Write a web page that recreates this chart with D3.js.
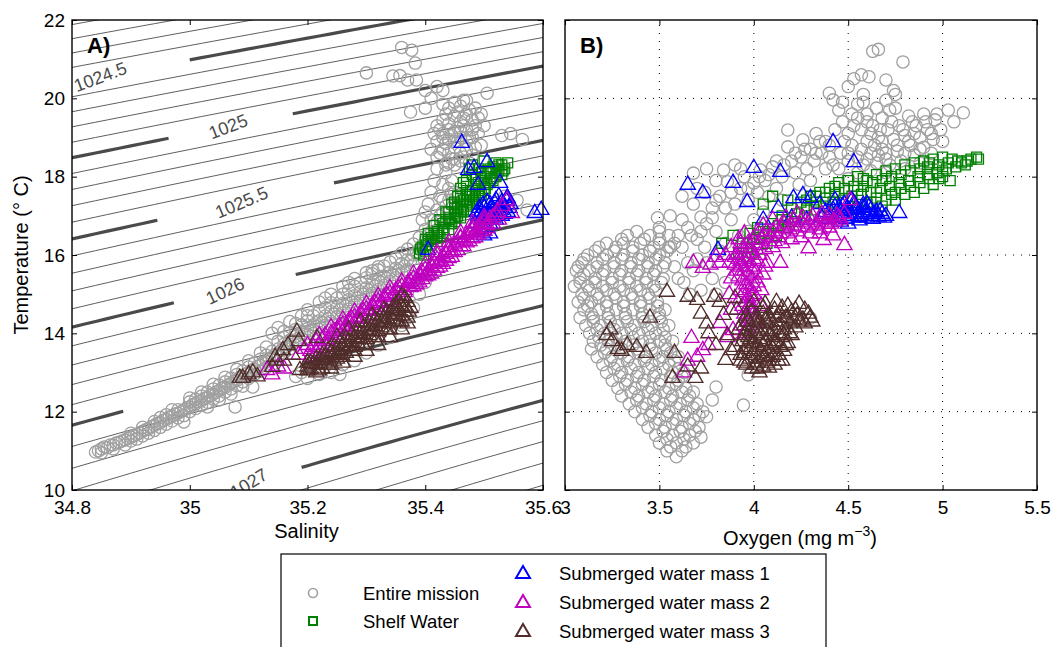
<!DOCTYPE html>
<html><head><meta charset="utf-8">
<script src="https://cdn.jsdelivr.net/npm/d3@7"></script>
<style>body{margin:0;background:#fff}text{font-family:"Liberation Sans",Arial,Helvetica,sans-serif}</style>
</head><body><svg id="c" width="1052" height="647"></svg>
<script>
// ---------- tick values ----------
const salTicks = [34.8, 35, 35.2, 35.4, 35.6];
const oxyTicks = [3, 3.5, 4, 4.5, 5, 5.5];
const tempTicks = [10, 12, 14, 16, 18, 20, 22];
const gridOxy = [3.5, 4, 4.5, 5];
const gridTemp = [12, 14, 16, 18, 20];

// ---------- isopycnal levels (kg m^-3) ----------
const thinLevels = [1024.0,1024.1,1024.2,1024.3,1024.4,1024.6,1024.7,1024.8,1024.9,1025.1,1025.2,1025.3,1025.4,1025.6,1025.7,1025.8,1025.9,1026.1,1026.2,1026.3,1026.4,1026.6,1026.7,1026.8,1026.9,1027.1,1027.2,1027.3,1027.4,1027.6];
const thickLevels = [1024.5, 1025, 1025.5, 1026, 1026.5, 1027];
const thickLabels = ["1024.5", "1025", "1025.5", "1026", "", "1027"];
const labelSal = [34.848, 35.065, 35.088, 35.06, 35.04, 35.1];
const gapSal = [[34.7, 35.0], [34.964, 35.175], [34.945, 35.245], [34.973, 35.18], [34.887, 35.19], [34.85, 35.19]];

// ---------- Panel A: salinity / temperature ----------
const grayTS = [[34.84,10.97],[34.85,11.05],[34.85,10.95],[34.86,11.08],[34.87,11.15],[34.87,11.05],[34.88,11.22],[34.89,11.28],[34.89,11.15],[34.9,11.35],[34.9,11.25],[34.91,11.42],[34.91,11.3],[34.92,11.5],[34.92,11.38],[34.93,11.56],[34.93,11.45],[34.94,11.65],[34.94,11.52],[34.94,11.75],[34.95,11.72],[34.95,11.6],[34.96,11.8],[34.96,11.68],[34.96,11.92],[34.97,11.88],[34.97,11.76],[34.98,11.96],[34.98,11.84],[34.98,12.05],[34.99,12.04],[34.99,11.9],[34.99,11.74],[35.0,12.12],[35.0,12.0],[35.0,12.25],[35.01,12.2],[35.01,12.08],[35.01,12.32],[35.02,12.28],[35.02,12.16],[35.02,12.4],[35.03,12.36],[35.03,12.24],[35.03,12.5],[35.04,12.45],[35.04,12.32],[35.04,12.58],[35.05,12.54],[35.05,12.4],[35.05,12.68],[35.06,12.62],[35.06,12.5],[35.06,12.76],[35.07,12.72],[35.07,12.58],[35.07,12.86],[35.077,12.12],[35.08,12.8],[35.08,12.66],[35.08,12.95],[35.09,12.9],[35.09,12.76],[35.09,13.04],[35.1,13.0],[35.1,12.85],[35.1,13.14],[35.107,12.63],[35.11,13.08],[35.11,13.24],[35.12,13.18],[35.12,13.04],[35.12,13.34],[35.13,13.28],[35.13,13.12],[35.13,13.44],[35.14,13.38],[35.14,13.2],[35.14,13.54],[35.14,14.0],[35.15,13.6],[35.15,13.4],[35.15,13.8],[35.15,14.15],[35.16,13.72],[35.16,13.5],[35.16,13.9],[35.17,13.82],[35.17,13.6],[35.17,14.02],[35.17,14.3],[35.18,13.92],[35.18,12.9],[35.18,14.1],[35.18,13.7],[35.19,14.02],[35.19,13.0],[35.19,14.22],[35.19,14.45],[35.2,14.12],[35.2,13.9],[35.2,14.32],[35.2,14.6],[35.2,12.85],[35.21,14.22],[35.21,14.0],[35.21,14.45],[35.21,13.1],[35.22,14.32],[35.22,14.1],[35.22,14.56],[35.22,14.8],[35.22,12.95],[35.23,14.44],[35.23,14.2],[35.23,14.66],[35.23,14.9],[35.23,13.15],[35.24,14.55],[35.24,14.3],[35.24,14.78],[35.24,15.0],[35.24,13.0],[35.25,14.66],[35.25,14.42],[35.25,14.9],[35.255,12.95],[35.26,14.76],[35.26,14.52],[35.26,15.0],[35.26,15.2],[35.26,13.2],[35.27,14.86],[35.27,14.62],[35.27,15.1],[35.27,15.3],[35.28,14.96],[35.28,14.72],[35.28,15.2],[35.28,15.4],[35.28,13.3],[35.29,15.06],[35.29,14.82],[35.29,15.3],[35.3,15.16],[35.3,14.92],[35.3,15.42],[35.3,15.55],[35.3,13.5],[35.31,15.26],[35.31,15.02],[35.31,15.52],[35.31,15.6],[35.32,15.36],[35.32,15.12],[35.32,15.62],[35.32,15.7],[35.32,13.7],[35.33,15.46],[35.33,15.22],[35.33,15.72],[35.34,15.56],[35.34,15.32],[35.34,15.82],[35.34,13.9],[35.35,15.66],[35.35,15.42],[35.35,15.92],[35.36,15.78],[35.36,15.54],[35.36,16.05],[35.36,14.2],[35.37,15.88],[35.37,14.4],[35.37,16.15],[35.37,15.62],[35.38,16.0],[35.38,15.75],[35.38,16.28],[35.38,14.65],[35.39,16.15],[35.39,15.0],[35.39,16.45],[35.4,16.35],[35.4,15.3],[35.4,16.65],[35.4,17.1],[35.41,16.6],[35.41,15.6],[35.41,16.9],[35.41,17.6],[35.42,16.85],[35.42,17.15],[35.42,18.2],[35.405,17.3],[35.415,17.9],[35.425,17.5],[35.43,17.1],[35.43,17.4],[35.43,17.8],[35.435,18.1],[35.44,17.4],[35.44,17.7],[35.44,18.35],[35.445,17.9],[35.45,18.3],[35.45,17.6],[35.46,18.4],[35.395,16.9],
[35.42,18.5],[35.43,18.7],[35.44,18.6],[35.45,18.75],[35.46,18.6],[35.47,18.7],[35.48,18.55],[35.42,18.9],[35.43,19.1],[35.44,18.95],[35.45,19.15],[35.46,19.0],[35.47,19.2],[35.48,19.0],[35.49,19.1],[35.495,18.8],[35.42,19.3],[35.43,19.45],[35.44,19.35],[35.45,19.55],[35.46,19.4],[35.47,19.6],[35.48,19.45],[35.49,19.5],[35.44,19.75],[35.45,19.9],[35.46,19.8],[35.47,19.95],[35.43,19.85],[35.415,19.1],[35.41,18.7],[35.435,18.3],[35.45,18.45],[35.475,18.35],[35.5,19.3],[35.505,20.13],[35.485,19.75],[35.455,18.9],[35.465,19.3],[35.475,19.0],[35.485,18.75],
[35.36,21.3],[35.377,21.23],[35.383,20.9],[35.30,20.65],[35.345,20.57],[35.357,20.58],[35.37,20.47],[35.385,20.47],[35.40,20.2],[35.43,20.2],[35.375,19.65],[35.40,19.75],[35.465,19.95],[35.53,19.05],[35.545,19.1],[35.565,18.95],[35.556,17.4],[35.573,17.15],[35.41,20.0],[35.42,20.3],[35.545,17.2],[35.535,17.5]];
const grayTS2 = [[34.845,11.0],[34.855,11.1],[34.865,11.15],[34.875,11.2],[34.885,11.25],[34.895,11.32],[34.905,11.38],[34.915,11.46],[34.925,11.54],[34.935,11.62],[34.945,11.7],[34.955,11.78],[34.965,11.86],[34.975,11.94],[34.985,12.0],[34.995,12.1],[35.005,12.18],[35.015,12.26],[35.025,12.34],[35.035,12.42],[35.045,12.5],[35.055,12.6],[35.065,12.68],[35.075,12.78],[35.085,12.88],[35.095,12.96],[35.105,13.06],[35.115,13.16],[35.125,13.26],[35.135,13.36],[35.145,13.46],[35.155,13.56],[35.165,13.66],[35.175,13.78],[35.185,13.88],[35.195,13.98],[35.205,14.08],[35.215,14.18],[35.225,14.28],[35.235,14.38],[35.245,14.5],[35.255,14.6],[35.265,14.7],[35.275,14.8],[35.285,14.9],[35.295,15.0],[35.305,15.1],[35.315,15.2],[35.325,15.3],[35.335,15.4],[35.345,15.5],[35.355,15.6],[35.365,15.72],[35.375,15.85],[35.385,16.05],[35.395,16.25],[35.405,16.5],[35.415,16.75],[35.425,17.0],[35.435,17.25],[35.445,17.55],[34.9,11.45],[34.92,11.6],[34.95,11.85],[34.97,12.05],[35.0,12.35],[35.02,12.5],[35.04,12.7],[35.06,12.88],[35.08,13.08],[35.1,13.3],[35.12,13.5],[35.13,13.65],[35.11,12.95],[35.09,12.65],[35.07,12.45],[35.05,12.3],[35.03,12.12],[35.16,14.05],[35.18,14.25],[35.2,14.45],[35.425,18.6],[35.435,18.85],[35.445,19.05],[35.455,19.25],[35.465,19.5],[35.475,19.7],[35.435,19.6],[35.425,19.2],[35.445,18.45],[35.465,18.5],[35.485,19.3],[35.495,19.6],[35.455,19.65],[35.47,18.9],[35.48,19.2],[35.43,19.0],[35.46,19.15],[35.44,19.2],[35.45,18.9]];

const greenTS = [[35.39,16.05],[35.395,16.2],[35.40,16.1],[35.405,16.35],[35.41,16.25],[35.415,16.5],[35.42,16.35],[35.42,16.6],[35.425,16.45],[35.43,16.7],[35.43,16.55],[35.435,16.85],[35.44,16.65],[35.44,16.95],[35.445,16.8],[35.45,17.05],[35.45,16.85],[35.455,17.2],[35.46,16.95],[35.46,17.3],[35.465,17.1],[35.47,17.4],[35.47,17.15],[35.475,17.55],[35.48,17.3],[35.48,17.65],[35.485,17.45],[35.49,17.75],[35.49,17.5],[35.495,17.9],[35.5,17.65],[35.5,18.0],[35.505,17.8],[35.51,18.1],[35.51,17.85],[35.515,18.25],[35.52,18.0],[35.52,18.35],[35.525,18.15],[35.53,18.3],[35.53,18.05],[35.535,18.2],[35.54,18.35],[35.5,18.4],[35.49,18.2],[35.48,18.05],[35.47,17.9],[35.465,17.85],[35.46,17.7],[35.475,18.2],[35.48,18.3],[35.455,17.5],[35.445,17.3],[35.435,17.1],[35.425,16.9],[35.415,16.75],[35.405,16.55],[35.4,16.4],[35.397,16.0],[35.44,17.1],[35.45,17.35],[35.46,17.5],
[35.392,16.15],[35.402,16.25],[35.412,16.4],[35.422,16.55],[35.432,16.65],[35.442,16.8],[35.452,16.95],[35.462,17.1],[35.472,17.25],[35.482,17.4],[35.492,17.6],[35.502,17.7],[35.512,17.95],[35.522,18.1],[35.532,18.15],[35.41,16.45],[35.43,16.8],[35.45,17.2],[35.47,17.55],[35.49,17.85],[35.51,18.2],[35.465,17.4],[35.485,17.65],[35.455,17.0],[35.475,17.35],[35.495,17.55],[35.515,17.9],[35.525,18.3],[35.44,16.9],[35.42,16.5],[35.46,17.15],[35.48,17.5],[35.5,17.85],[35.52,18.2],[35.505,18.15],[35.47,17.75],[35.485,17.95],[35.495,18.1]];

const blueTS = [[35.462,18.86],[35.473,18.17],[35.483,18.22],[35.505,18.37],[35.49,17.79],[35.527,17.84],[35.539,17.46],[35.586,17.07],[35.597,17.15],[35.405,16.13],[35.49,17.0],[35.495,17.1],[35.5,16.95],[35.5,17.2],[35.505,17.05],[35.51,17.3],[35.51,17.0],[35.515,17.15],[35.52,17.4],[35.52,17.1],[35.525,17.25],[35.53,17.0],[35.53,17.35],[35.535,17.2],[35.54,17.45],[35.54,17.1],[35.545,17.3],[35.505,17.35],[35.495,16.9],[35.515,16.95],[35.525,17.5],[35.5,16.5],[35.495,16.6],[35.505,16.7],[35.485,16.8],
[35.492,17.2],[35.498,17.28],[35.508,17.12],[35.512,17.22],[35.518,17.32],[35.522,17.02],[35.528,17.15],[35.532,17.28],[35.538,17.38],[35.543,17.2],[35.502,16.88],[35.51,16.8],[35.52,16.9],[35.488,17.1],[35.497,17.0],[35.535,17.05],[35.5,16.62],[35.51,16.55]];

const magentaTS = [[35.131,13.06],[35.14,12.95],[35.15,13.15],[35.16,13.1],[35.185,13.45],[35.195,13.6],[35.2,13.7],[35.205,13.55],[35.21,13.65],[35.215,13.8],[35.22,13.7],[35.225,13.85],[35.23,13.95],[35.235,13.8],[35.24,14.0],[35.245,14.05],[35.25,14.1],[35.255,14.15],[35.26,14.22],[35.265,14.15],[35.27,14.32],[35.275,14.37],[35.28,14.42],[35.285,14.37],[35.29,14.52],[35.295,14.57],[35.3,14.62],[35.305,14.57],[35.31,14.72],[35.315,14.77],[35.32,14.82],[35.325,14.77],[35.33,14.92],[35.335,14.97],[35.34,15.02],[35.345,14.97],[35.35,15.1],[35.355,15.15],[35.36,15.2],[35.365,15.1],[35.37,15.28],[35.375,15.32],[35.38,15.4],[35.385,15.35],[35.39,15.5],[35.395,15.55],[35.4,15.62],[35.405,15.58],[35.41,15.72],[35.415,15.78],[35.42,15.88],[35.425,15.82],[35.43,15.98],[35.435,16.03],[35.44,16.12],[35.445,16.08],[35.45,16.27],[35.455,16.32],[35.46,16.42],[35.465,16.37],[35.47,16.52],[35.475,16.57],[35.48,16.62],[35.485,16.57],[35.49,16.72],[35.495,16.77],[35.5,16.82],[35.505,16.77],[35.51,16.92],[35.515,16.97],[35.52,17.02],[35.41,15.52],[35.42,15.67],[35.43,15.77],[35.44,15.92],[35.45,16.07],[35.46,16.22],[35.47,16.32],[35.48,16.42],[35.49,16.52],[35.5,16.62],[35.38,15.2],[35.39,15.3],[35.4,15.45],[35.42,16.07],[35.44,16.32],[35.46,16.57],[35.48,16.82],[35.5,16.97],[35.539,17.4],[35.547,17.07],[35.522,17.1],[35.53,17.25],
[35.205,13.4],[35.215,13.5],[35.225,13.62],[35.235,13.7],[35.245,13.85],[35.255,13.95],[35.265,14.05],[35.275,14.18],[35.285,14.27],[35.295,14.4],[35.305,14.47],[35.315,14.6],[35.325,14.67],[35.335,14.8],[35.345,14.85],[35.355,14.98],[35.365,15.05],[35.375,15.18],[35.385,15.25],[35.395,15.38],[35.405,15.48],[35.415,15.6],[35.425,15.7],[35.435,15.85],[35.445,15.95],[35.455,16.12],[35.465,16.22],[35.475,16.35],[35.485,16.45],[35.495,16.6],[35.505,16.68],[35.515,16.8],[35.525,16.9],[35.22,13.95],[35.24,14.15],[35.26,14.35],[35.28,14.55],[35.3,14.75],[35.32,14.95],[35.34,15.15],[35.36,15.32],[35.38,15.52],[35.4,15.75],[35.42,16.0],[35.44,16.2],[35.46,16.45],[35.48,16.7],[35.5,16.9]];

const brownTS = [[35.2,13.05],[35.21,13.2],[35.215,13.0],[35.22,13.3],[35.225,13.1],[35.23,13.4],[35.235,13.2],[35.24,13.5],[35.245,13.3],[35.25,13.6],[35.25,13.35],[35.255,13.45],[35.26,13.7],[35.265,13.5],[35.27,13.8],[35.275,13.55],[35.28,13.9],[35.28,13.65],[35.285,13.75],[35.29,14.0],[35.295,13.7],[35.3,14.1],[35.3,13.85],[35.305,13.95],[35.31,14.2],[35.315,13.9],[35.32,14.3],[35.32,14.05],[35.325,14.15],[35.33,14.4],[35.335,14.1],[35.34,14.5],[35.34,14.25],[35.345,14.35],[35.35,14.6],[35.355,14.3],[35.36,14.7],[35.36,14.45],[35.365,14.55],[35.37,14.8],[35.37,14.4],[35.375,14.65],[35.365,14.9],[35.355,14.8],[35.345,14.65],[35.335,14.55],[35.325,14.45],[35.315,14.35],[35.305,14.25],[35.295,14.15],[35.285,14.05],[35.275,13.95],[35.265,13.85],[35.255,13.75],[35.245,13.65],[35.235,13.55],[35.225,13.45],[35.215,13.35],[35.205,13.25],[35.2,13.15],[35.24,13.1],[35.26,13.25],[35.28,13.4],[35.3,13.55],[35.32,13.7],[35.34,13.9],[35.36,14.1],[35.37,14.25],[35.27,14.1],[35.29,14.3],[35.31,14.45],[35.33,14.6],[35.35,14.75],[35.36,14.95],[35.25,13.9],
[35.09,12.86],[35.107,13.0],[35.115,12.9],[35.145,13.4],[35.158,13.57],[35.167,13.7],[35.182,14.04],[35.185,13.8],[35.216,13.88],[35.14,13.14],[35.16,13.3],[35.187,13.06],[35.085,12.86],[35.1,12.95],[35.148,13.3],[35.175,13.45],
[35.205,13.1],[35.215,13.22],[35.225,13.32],[35.235,13.38],[35.245,13.48],[35.255,13.58],[35.265,13.68],[35.275,13.78],[35.285,13.88],[35.295,13.98],[35.305,14.08],[35.315,14.18],[35.325,14.28],[35.335,14.38],[35.345,14.48],[35.355,14.58],[35.365,14.68],[35.372,14.55],[35.23,13.25],[35.25,13.45],[35.27,13.65],[35.29,13.85],[35.31,14.05],[35.33,14.25],[35.35,14.45],[35.22,13.05],[35.26,13.4],[35.3,13.7],[35.34,14.1],[35.28,13.55],[35.32,13.9],[35.36,14.3],[35.24,13.2],[35.2,13.25]];

// ---------- Panel B: oxygen / temperature ----------
const grayOT = [[3.38,16.6],[3.5,16.6],[3.3,16.4],[3.42,16.4],[3.18,16.2],[3.27,16.2],[3.36,16.2],[3.47,16.2],[3.56,16.2],[3.12,16.0],[3.22,16.0],[3.31,16.0],[3.41,16.0],[3.5,16.0],[3.09,15.8],[3.17,15.8],[3.26,15.8],[3.35,15.8],[3.44,15.8],[3.53,15.8],[3.06,15.6],[3.13,15.6],[3.21,15.6],[3.3,15.6],[3.39,15.6],[3.48,15.6],[3.08,15.4],[3.16,15.4],[3.25,15.4],[3.34,15.4],[3.43,15.4],[3.52,15.4],[3.05,15.2],[3.12,15.2],[3.2,15.2],[3.29,15.2],[3.38,15.2],[3.47,15.2],[3.09,15.0],[3.17,15.0],[3.26,15.0],[3.35,15.0],[3.44,15.0],[3.07,14.8],[3.14,14.8],[3.22,14.8],[3.31,14.8],[3.4,14.8],[3.49,14.8],[3.1,14.6],[3.18,14.6],[3.27,14.6],[3.36,14.6],[3.45,14.6],[3.53,14.6],[3.08,14.4],[3.15,14.4],[3.23,14.4],[3.32,14.4],[3.41,14.4],[3.5,14.4],[3.11,14.2],[3.19,14.2],[3.28,14.2],[3.37,14.2],[3.46,14.2],[3.55,14.2],[3.13,14.0],[3.21,14.0],[3.3,14.0],[3.39,14.0],[3.48,14.0],[3.15,13.8],[3.23,13.8],[3.32,13.8],[3.41,13.8],[3.5,13.8],[3.57,13.8],[3.14,13.6],[3.22,13.6],[3.3,13.6],[3.38,13.6],[3.46,13.6],[3.54,13.6],[3.17,13.4],[3.25,13.4],[3.34,13.4],[3.43,13.4],[3.52,13.4],[3.6,13.4],[3.2,13.2],[3.28,13.2],[3.37,13.2],[3.46,13.2],[3.55,13.2],[3.22,13.0],[3.3,13.0],[3.39,13.0],[3.48,13.0],[3.57,13.0],[3.63,13.0],[3.25,12.8],[3.33,12.8],[3.42,12.8],[3.51,12.8],[3.6,12.8],[3.28,12.6],[3.37,12.6],[3.46,12.6],[3.55,12.6],[3.64,12.6],[3.3,12.4],[3.39,12.4],[3.48,12.4],[3.57,12.4],[3.66,12.4],[3.34,12.2],[3.43,12.2],[3.52,12.2],[3.61,12.2],[3.7,12.2],[3.37,12.0],[3.46,12.0],[3.55,12.0],[3.64,12.0],[3.73,12.0],[3.41,11.8],[3.5,11.8],[3.59,11.8],[3.68,11.8],[3.44,11.6],[3.53,11.6],[3.62,11.6],[3.71,11.6],[3.48,11.4],[3.57,11.4],[3.66,11.4],[3.5,11.2],[3.59,11.2],[3.68,11.2],[3.54,11.0],[3.62,11.0],[3.59,10.85],[3.8,12.63],[3.945,12.17],[3.97,12.94],[3.72,11.35],[3.75,11.87],[3.78,12.3],[4.3,14.39],
[3.45,16.1],[3.5,16.4],[3.49,16.95],[3.557,17.0],[3.6,16.5],[3.65,16.7],[3.62,16.2],[3.7,16.4],[3.72,16.97],[3.68,17.3],[3.75,16.8],[3.78,17.2],[3.8,16.6],[3.68,18.09],[3.74,17.6],[3.84,18.17],[3.86,17.87],[3.82,17.5],[3.9,17.3],[3.88,16.9],[3.93,17.7],[3.95,18.0],[3.97,17.4],[4.0,17.84],[4.035,18.17],[4.02,17.6],[4.06,17.9],[4.1,18.25],[4.08,17.5],[4.12,17.7],[4.15,18.0],[4.18,18.76],[4.18,19.19],[4.2,18.4],[4.22,18.1],[4.26,18.94],[4.25,18.5],[4.28,18.2],[4.3,18.7],[4.32,18.4],[4.35,18.9],[4.33,19.1],[4.36,18.6],[4.24,17.8],[4.3,17.9],[4.38,18.2],[4.4,18.5],[4.15,17.4],[3.85,16.3],[3.92,16.5],[3.63,15.3],[3.68,15.6],[3.72,15.1],[3.78,15.4],[3.66,15.0],[3.8,15.0],[3.75,15.8],[3.58,15.7],[3.55,16.2],[3.82,16.1],[3.97,16.6],[4.05,17.1],[4.0,16.9],[3.9,18.3],[3.8,17.9],[3.6,15.4],[3.7,15.9],[3.85,15.3],
[4.4,20.13],[4.42,19.96],[4.45,19.7],[4.47,19.4],[4.5,19.1],[4.52,18.8],[4.55,18.5],[4.58,18.3],[4.48,18.9],[4.46,18.6],[4.5,18.4],[4.43,19.2],[4.55,19.5],[4.57,19.2],[4.6,18.9],[4.62,18.6],[4.65,18.35],[4.6,19.6],[4.63,19.3],[4.66,19.0],[4.68,18.7],[4.7,18.45],[4.72,18.3],[4.68,19.5],[4.71,19.2],[4.74,18.95],[4.76,18.65],[4.78,18.4],[4.8,18.6],[4.77,19.3],[4.8,19.05],[4.83,18.8],[4.85,18.55],[4.82,19.55],[4.86,19.3],[4.88,19.0],[4.9,18.75],[4.92,19.2],[4.95,18.95],[4.96,19.45],[4.99,19.2],[5.03,19.7],[5.11,19.63],[5.06,19.4],[5.0,18.9],[4.9,19.6],[4.75,19.75],[4.7,19.95],[4.65,19.75],[4.55,19.85],[4.53,20.5],[4.57,20.6],[4.61,20.55],[4.7,20.47],[4.74,20.2],[4.75,20.1],[4.63,21.2],[4.66,21.25],[4.79,20.93],[4.5,20.3],[4.58,20.1],[4.62,18.15],[4.7,18.1],[4.8,18.2],[4.55,18.1],[4.5,17.95],[4.45,18.2],[4.38,18.9],[4.88,18.35],[4.94,18.6]];
const grayOT2 = [[3.33,16.5],[3.45,16.5],[3.22,16.3],[3.31,16.3],[3.4,16.3],[3.5,16.3],[3.16,16.1],[3.26,16.1],[3.36,16.1],[3.45,16.1],[3.54,16.1],[3.1,15.9],[3.2,15.9],[3.3,15.9],[3.39,15.9],[3.48,15.9],[3.07,15.7],[3.17,15.7],[3.26,15.7],[3.35,15.7],[3.44,15.7],[3.52,15.7],[3.1,15.5],[3.2,15.5],[3.29,15.5],[3.38,15.5],[3.47,15.5],[3.08,15.3],[3.16,15.3],[3.25,15.3],[3.34,15.3],[3.43,15.3],[3.51,15.3],[3.13,15.1],[3.22,15.1],[3.31,15.1],[3.4,15.1],[3.48,15.1],[3.1,14.9],[3.18,14.9],[3.27,14.9],[3.36,14.9],[3.45,14.9],[3.12,14.7],[3.22,14.7],[3.31,14.7],[3.4,14.7],[3.49,14.7],[3.14,14.5],[3.23,14.5],[3.32,14.5],[3.41,14.5],[3.5,14.5],[3.15,14.3],[3.24,14.3],[3.33,14.3],[3.42,14.3],[3.51,14.3],[3.17,14.1],[3.26,14.1],[3.35,14.1],[3.44,14.1],[3.52,14.1],[3.18,13.9],[3.27,13.9],[3.36,13.9],[3.45,13.9],[3.53,13.9],[3.19,13.7],[3.28,13.7],[3.36,13.7],[3.45,13.7],[3.53,13.7],[3.21,13.5],[3.3,13.5],[3.39,13.5],[3.48,13.5],[3.56,13.5],[3.24,13.3],[3.33,13.3],[3.42,13.3],[3.5,13.3],[3.58,13.3],[3.26,13.1],[3.35,13.1],[3.44,13.1],[3.52,13.1],[3.6,13.1],[3.29,12.9],[3.38,12.9],[3.47,12.9],[3.56,12.9],[3.62,12.9],[3.32,12.7],[3.41,12.7],[3.5,12.7],[3.59,12.7],[3.35,12.5],[3.44,12.5],[3.53,12.5],[3.62,12.5],[3.68,12.5],[3.38,12.3],[3.47,12.3],[3.56,12.3],[3.65,12.3],[3.41,12.1],[3.5,12.1],[3.59,12.1],[3.68,12.1],[3.45,11.9],[3.54,11.9],[3.63,11.9],[3.71,11.9],[3.48,11.7],[3.57,11.7],[3.66,11.7],[3.52,11.5],[3.61,11.5],[3.69,11.5],[3.54,11.3],[3.63,11.3],[3.56,11.1],[3.64,11.1],
[3.5,16.7],[3.55,16.5],[3.62,16.9],[3.67,16.5],[3.72,16.6],[3.78,16.95],[3.8,17.4],[3.85,17.2],[3.88,17.6],[3.93,18.2],[3.97,17.7],[4.03,18.0],[4.08,18.05],[4.12,18.4],[4.16,18.3],[4.22,18.6],[4.27,18.7],[4.33,18.6],[4.4,18.8],[4.42,18.3],[3.7,17.7],[3.75,18.2],[3.62,17.5],[3.58,16.3],[3.65,15.8],[3.74,16.2],
[4.5,18.6],[4.53,19.3],[4.57,18.7],[4.6,19.4],[4.64,18.8],[4.67,19.2],[4.7,18.6],[4.73,19.4],[4.76,18.8],[4.79,19.2],[4.82,18.9],[4.85,19.1],[4.88,18.7],[4.91,19.4],[4.94,19.1],[4.97,19.6],[4.47,19.9],[4.52,19.6],[4.58,19.9],[4.62,19.1],[4.68,18.9],[4.72,19.7],[4.84,19.4],[4.6,18.45],[4.66,18.55]];

const greenOT = [[3.92,16.05],[3.96,16.2],[3.97,15.95],[4.0,16.4],[4.02,16.15],[4.05,16.6],[4.07,16.3],[4.1,16.8],[4.12,16.5],[4.15,17.0],[4.17,16.7],[4.2,17.2],[4.22,16.85],[4.25,17.35],[4.27,17.0],[4.3,17.5],[4.32,17.15],[4.35,17.6],[4.37,17.25],[4.4,17.7],[4.42,17.35],[4.45,17.85],[4.47,17.4],[4.5,17.9],[4.52,17.5],[4.55,18.0],[4.57,17.55],[4.6,17.9],[4.62,17.6],[4.65,18.05],[4.67,17.7],[4.7,18.15],[4.72,17.75],[4.75,18.2],[4.77,17.85],[4.8,18.3],[4.82,17.9],[4.85,18.35],[4.87,18.0],[4.9,18.4],[4.92,18.05],[4.95,18.45],[4.97,18.1],[5.0,18.5],[5.02,18.2],[5.05,18.45],[5.07,18.25],[5.1,18.35],[5.13,18.4],[5.18,18.5],[5.19,18.45],[4.68,17.25],[4.75,17.4],[4.85,17.6],[4.95,17.8],[5.04,17.9],[4.6,17.3],[4.55,17.2],[4.8,17.55],[4.9,17.7],[4.7,17.95],[4.58,17.75],[4.43,17.55],[4.38,17.45],[4.33,17.35],[4.18,17.4],[4.1,17.5],[4.05,17.3],[4.02,16.7],[3.98,16.55],[4.15,16.9],[4.28,17.2],[4.4,17.05],[4.5,17.15],[3.89,16.5],[3.83,16.3],[4.75,17.6],[4.65,17.45],[4.92,18.25],[5.0,18.0],
[3.94,16.3],[3.99,16.05],[4.03,16.45],[4.08,16.55],[4.13,16.75],[4.18,16.85],[4.23,17.05],[4.28,17.4],[4.33,17.5],[4.38,17.6],[4.43,17.75],[4.48,17.7],[4.53,17.75],[4.58,17.95],[4.63,17.85],[4.68,17.9],[4.73,18.0],[4.78,18.05],[4.83,18.15],[4.88,18.2],[4.93,18.35],[4.98,18.3],[5.03,18.35],[5.08,18.4],[4.45,17.6],[4.55,17.65],[4.65,17.6],[4.73,17.55],[4.83,17.75],[4.93,17.95],[5.0,18.15],[4.62,17.35],[4.7,17.4],[4.78,17.7],[4.88,17.85],[4.98,17.95],[5.12,18.3],[5.15,18.45]];

const blueOT = [[3.65,17.79],[3.73,17.58],[3.89,17.84],[4.0,18.22],[4.14,18.12],[3.965,17.35],[4.13,17.2],[4.21,17.45],[4.26,17.53],[4.3,17.45],[3.81,16.13],[4.42,18.88],[4.53,18.37],[4.77,17.07],[4.35,17.3],[4.05,16.9],[4.2,16.95],[4.28,16.9],[4.4,17.0],[4.42,17.15],[4.44,16.95],[4.45,17.2],[4.47,17.05],[4.48,17.3],[4.5,17.0],[4.5,17.15],[4.52,16.95],[4.53,17.25],[4.55,17.05],[4.55,17.15],[4.57,17.0],[4.58,17.2],[4.6,17.05],[4.6,16.95],[4.62,17.15],[4.63,17.0],[4.65,17.1],[4.66,16.98],[4.68,17.05],[4.46,16.85],[4.5,16.8],[4.56,16.88],[4.38,17.1],[4.36,16.95],[4.43,17.4],[4.52,17.4],[4.6,17.3],[4.7,17.0],
[4.41,17.08],[4.43,17.22],[4.46,17.12],[4.49,16.92],[4.51,17.08],[4.54,17.18],[4.56,16.96],[4.59,17.1],[4.61,17.22],[4.64,17.05],[4.67,17.12],[4.69,16.95],[4.47,17.25],[4.53,17.32],[4.58,17.28],[4.63,16.92],[4.45,16.98],[4.39,16.92]];

const magentaOT = [[3.95,14.0],[3.98,14.2],[3.96,14.4],[3.99,14.6],[3.94,14.7],[3.97,14.9],[4.0,15.0],[3.93,15.1],[3.96,15.25],[3.99,15.4],[4.02,15.3],[3.92,15.45],[3.95,15.6],[3.98,15.7],[4.01,15.55],[3.9,15.75],[3.93,15.85],[3.96,15.95],[3.99,16.05],[4.02,15.85],[3.91,16.0],[3.94,16.15],[3.97,16.3],[3.88,16.2],[4.0,16.4],[4.03,16.25],[4.05,16.5],[4.08,16.35],[4.1,16.6],[4.13,16.45],[4.15,16.7],[4.18,16.55],[4.2,16.75],[4.23,16.6],[4.25,16.85],[4.28,16.7],[4.3,16.9],[4.33,16.75],[4.35,16.95],[4.38,16.8],[4.4,17.0],[4.43,16.85],[4.45,16.95],[4.48,17.05],[4.1,16.9],[4.17,16.95],[4.23,17.05],[4.05,16.75],[3.95,16.55],[3.92,16.4],[3.73,15.67],[3.77,15.75],[3.82,15.8],[4.07,15.8],[4.14,15.8],[4.29,16.17],[4.37,16.38],[4.48,16.25],[4.51,17.4],[3.67,13.88],[3.73,13.57],[3.65,13.3],[3.63,13.0],[3.7,13.4],[3.89,14.08],[3.86,13.9],[3.82,14.26],[3.93,14.2],[3.76,13.7],[3.68,15.8],[4.42,16.5],[4.35,16.55],
[3.96,14.1],[3.97,14.3],[3.95,14.5],[3.98,14.75],[3.96,14.8],[3.99,14.95],[3.95,15.05],[3.98,15.15],[3.94,15.35],[3.97,15.5],[4.0,15.65],[3.93,15.7],[3.96,15.8],[4.0,15.9],[3.92,15.9],[3.95,16.05],[3.98,16.2],[4.01,16.3],[3.93,16.3],[4.02,16.6],[4.04,16.4],[4.07,16.6],[4.09,16.45],[4.12,16.7],[4.14,16.55],[4.16,16.8],[4.19,16.65],[4.21,16.9],[4.24,16.72],[4.26,16.95],[4.29,16.8],[4.31,17.0],[4.34,16.85],[4.36,17.05],[4.39,16.9],[4.41,16.8],[4.44,17.0],[4.46,16.9],[4.01,14.3],[4.0,14.5],[3.97,14.65],[3.93,14.9],[4.0,15.2],[3.91,15.6],[4.03,16.0],[3.9,15.95],[4.06,16.15],[4.11,16.35],
[3.87,15.0],[3.88,15.4],[3.87,15.8],[4.04,15.1],[4.05,15.5],[4.06,15.7],[3.88,14.6],[4.04,14.7],[4.1,16.2],[4.2,16.4],[4.3,16.55],[4.15,16.3],[4.25,16.45],[4.35,16.65],[4.4,16.7],[3.85,16.0],[3.8,15.95]];

const brownOT = [[3.93,13.3],[3.96,13.2],[3.99,13.1],[4.02,13.25],[4.05,13.15],[4.08,13.3],[4.11,13.2],[3.95,13.5],[3.98,13.6],[4.01,13.45],[4.04,13.55],[4.07,13.5],[4.1,13.6],[4.13,13.45],[4.16,13.55],[3.94,13.8],[3.97,13.9],[4.0,13.75],[4.03,13.85],[4.06,13.8],[4.09,13.95],[4.12,13.8],[4.15,13.9],[4.18,13.75],[3.92,14.1],[3.95,14.2],[3.98,14.05],[4.01,14.15],[4.04,14.1],[4.07,14.25],[4.1,14.1],[4.13,14.2],[4.16,14.1],[4.19,14.25],[4.22,14.15],[3.96,14.45],[3.99,14.55],[4.02,14.4],[4.05,14.5],[4.08,14.45],[4.11,14.6],[4.14,14.5],[4.17,14.4],[4.2,14.55],[4.23,14.45],[4.26,14.35],[4.29,14.5],[4.31,14.3],[4.27,14.6],[4.24,14.75],[4.18,14.7],[4.12,14.8],[4.06,14.75],[4.0,14.8],[4.03,13.0],[4.06,13.4],[3.9,13.65],[3.91,14.6],[4.15,13.3],[4.2,13.95],[4.09,13.7],
[3.54,15.06],[3.45,14.4],[3.24,14.1],[3.25,13.8],[3.28,13.6],[3.33,13.7],[3.38,13.65],[3.43,13.5],[3.65,14.93],[3.7,14.85],[3.72,14.5],[3.75,14.25],[3.58,13.5],[3.57,12.86],[3.69,12.86],[3.65,13.15],[3.72,13.1],[3.79,14.93],[3.82,14.8],[3.84,14.47],[3.86,13.95],[3.88,13.57],[3.85,13.32],[3.8,13.7],[3.76,14.0],[3.9,14.9],[3.22,13.95],[3.3,13.55],
[3.95,13.25],[3.98,13.35],[4.01,13.2],[4.04,13.35],[4.07,13.25],[4.1,13.4],[4.13,13.3],[3.96,13.65],[3.99,13.75],[4.02,13.65],[4.05,13.7],[4.08,13.6],[4.11,13.75],[4.14,13.65],[4.17,13.7],[3.95,13.95],[3.98,13.85],[4.01,14.0],[4.04,13.95],[4.07,14.05],[4.1,13.9],[4.13,14.0],[4.16,13.95],[4.19,14.0],[3.97,14.3],[4.0,14.35],[4.03,14.25],[4.06,14.35],[4.09,14.3],[4.12,14.4],[4.15,14.3],[4.18,14.4],[4.21,14.35],[4.24,14.3],[4.27,14.25],[4.3,14.4],[4.02,13.1],[4.08,13.12],[4.0,13.55],[3.93,13.45],[4.05,14.65],[4.15,14.65],[4.22,14.6]];

// ---------- legend ----------
const legendLeft = ["Entire mission", "Shelf Water"];
const legendRight = ["Submerged water mass 1", "Submerged water mass 2", "Submerged water mass 3"];

// ---------- styles ----------
const C = {gray: "#a0a0a0", green: "#008000", blue: "#0000ff", magenta: "#c000c0", brown: "#502d2a"};

const svg = d3.select("#c");
const TOP = 20, BOT = 490;
const xA = d3.scaleLinear().domain([34.8, 35.6]).range([72, 543]);
const xB = d3.scaleLinear().domain([3, 5.5]).range([565, 1037]);
const y = d3.scaleLinear().domain([10, 22]).range([BOT, TOP]);

// UNESCO EOS-80, surface pressure
function rhoSW(S, T) {
  const T2 = T*T, T3 = T2*T, T4 = T3*T, T5 = T4*T;
  const rw = 999.842594 + 6.793952e-2*T - 9.095290e-3*T2 + 1.001685e-4*T3 - 1.120083e-6*T4 + 6.536332e-9*T5;
  const A = 0.824493 - 4.0899e-3*T + 7.6438e-5*T2 - 8.2467e-7*T3 + 5.3875e-9*T4;
  const B = -5.72466e-3 + 1.0227e-4*T - 1.6546e-6*T2;
  return rw + A*S + B*Math.pow(S, 1.5) + 4.8314e-4*S*S;
}
function isoT(level, S) {
  let lo = 0, hi = 40;
  for (let i = 0; i < 50; i++) { const m = (lo+hi)/2; if (rhoSW(S, m) > level) lo = m; else hi = m; }
  return (lo+hi)/2;
}
const sSamp = d3.range(34.76, 35.645, 0.02);
const line = d3.line().x(d => xA(d[0])).y(d => y(d[1]));
const defs = svg.append("defs");
defs.append("clipPath").attr("id", "clipA").append("rect")
  .attr("x", xA(34.8)).attr("y", y(22)).attr("width", xA(35.6)-xA(34.8)).attr("height", y(10)-y(22));

const gA = svg.append("g");
const gCont = gA.append("g").attr("clip-path", "url(#clipA)");
thinLevels.forEach(L => {
  gCont.append("path").attr("d", line(sSamp.map(s => [s, isoT(L, s)])))
    .attr("fill", "none").attr("stroke", "#2a2a2a").attr("stroke-width", 0.75);
});
thickLevels.forEach((L, i) => {
  const [g0, g1] = gapSal[i];
  const left = sSamp.filter(s => s < g0).concat([g0]).map(s => [s, isoT(L, s)]);
  const right = [g1].concat(sSamp.filter(s => s > g1)).map(s => [s, isoT(L, s)]);
  [left, right].forEach(seg => {
    if (seg.length > 1) gCont.append("path").attr("d", line(seg))
      .attr("fill", "none").attr("stroke", "#4a4a4a").attr("stroke-width", 3.2);
  });
  if (thickLabels[i]) {
    const s = labelSal[i];
    const px = xA(s), py = y(isoT(L, s));
    const slope = (y(isoT(L, s+0.01)) - y(isoT(L, s-0.01))) / (xA(s+0.01) - xA(s-0.01));
    const ang = Math.atan(slope) * 180 / Math.PI * 1.9;
    gCont.append("text").attr("transform", `translate(${px},${py}) rotate(${ang})`)
      .attr("text-anchor", "middle").attr("dy", "0.35em")
      .attr("font-size", 18).attr("fill", "#4a4a4a").text(thickLabels[i]);
  }
});

function plotPts(g, data, xs, type, size, color, sw) {
  const p = d3.symbol().type(type).size(size)();
  g.append("g").selectAll("path").data(data).join("path")
    .attr("d", p).attr("transform", d => `translate(${xs(d[0])},${y(d[1])})`)
    .attr("fill", "none").attr("stroke", color).attr("stroke-width", sw);
}
const CIRC = 118, SQ = 100, TRI = 100;
plotPts(gA, grayTS.concat(grayTS2), xA, d3.symbolCircle, CIRC, C.gray, 1.3);
plotPts(gA, greenTS, xA, d3.symbolSquare, SQ, C.green, 1.3);
plotPts(gA, blueTS, xA, d3.symbolTriangle, TRI, C.blue, 1.35);
plotPts(gA, magentaTS, xA, d3.symbolTriangle, TRI, C.magenta, 1.35);
plotPts(gA, brownTS, xA, d3.symbolTriangle, TRI, C.brown, 1.35);

// Panel B
const gB = svg.append("g");
gridOxy.forEach(v => gB.append("line").attr("x1", xB(v)).attr("x2", xB(v)).attr("y1", y(10)).attr("y2", y(22))
  .attr("stroke", "#000").attr("stroke-width", 1).attr("stroke-dasharray", "1,7"));
gridTemp.forEach(v => gB.append("line").attr("x1", xB(3)).attr("x2", xB(5.5)).attr("y1", y(v)).attr("y2", y(v))
  .attr("stroke", "#000").attr("stroke-width", 1).attr("stroke-dasharray", "1,7"));
plotPts(gB, grayOT.concat(grayOT2), xB, d3.symbolCircle, CIRC, C.gray, 1.3);
plotPts(gB, greenOT, xB, d3.symbolSquare, SQ, C.green, 1.3);
plotPts(gB, blueOT, xB, d3.symbolTriangle, TRI, C.blue, 1.35);
plotPts(gB, magentaOT, xB, d3.symbolTriangle, TRI, C.magenta, 1.35);
plotPts(gB, brownOT, xB, d3.symbolTriangle, TRI, C.brown, 1.35);

// Axes
function axes(xs, xTicks, xFmt, yLabels) {
  const [x0, x1] = xs.range();
  const style = g => { g.select(".domain").remove(); g.attr("font-family", null).attr("font-size", 19);
    g.selectAll("line").attr("stroke", "#000").attr("stroke-width", 1); g.selectAll("text").attr("fill", "#000"); };
  svg.append("g").attr("transform", `translate(0,${BOT})`)
    .call(d3.axisBottom(xs).tickValues(xTicks).tickFormat(xFmt).tickSizeInner(-5).tickSizeOuter(0).tickPadding(11)).call(style);
  svg.append("g").attr("transform", `translate(0,${TOP})`)
    .call(d3.axisTop(xs).tickValues(xTicks).tickFormat("").tickSizeInner(-5).tickSizeOuter(0)).call(style);
  svg.append("g").attr("transform", `translate(${x0},0)`)
    .call(d3.axisLeft(y).tickValues(tempTicks).tickFormat(yLabels ? d3.format("d") : "").tickSizeInner(-5).tickSizeOuter(0).tickPadding(7)).call(style);
  svg.append("g").attr("transform", `translate(${x1},0)`)
    .call(d3.axisRight(y).tickValues(tempTicks).tickFormat("").tickSizeInner(-5).tickSizeOuter(0)).call(style);
  svg.append("rect").attr("x", x0).attr("y", TOP).attr("width", x1-x0).attr("height", BOT-TOP)
    .attr("fill", "none").attr("stroke", "#000").attr("stroke-width", 1.4);
}
axes(xA, salTicks, d => String(+d.toFixed(1)), true);
axes(xB, oxyTicks, d => String(+d.toFixed(1)), false);

// Titles
svg.append("text").attr("x", 87).attr("y", 53).attr("font-size", 22).attr("font-weight", "bold").text("A)");
svg.append("text").attr("x", 580).attr("y", 53).attr("font-size", 22).attr("font-weight", "bold").text("B)");
svg.append("text").attr("x", (xA.range()[0]+xA.range()[1])/2 - 1).attr("y", 538).attr("text-anchor", "middle").attr("font-size", 20).text("Salinity");
const ox = svg.append("text").attr("x", 800).attr("y", 545).attr("text-anchor", "middle").attr("font-size", 20);
ox.append("tspan").text("Oxygen (mg m");
ox.append("tspan").attr("dy", -9).attr("font-size", 14).text("\u22123");
ox.append("tspan").attr("dy", 9).text(")");
svg.append("text").attr("transform", "translate(28,255) rotate(-90)").attr("text-anchor", "middle").attr("font-size", 20).text("Temperature (\u00B0 C)");

// Legend
const lg = svg.append("g");
lg.append("rect").attr("x", 281).attr("y", 554).attr("width", 545).attr("height", 110)
  .attr("fill", "#fff").attr("stroke", "#000").attr("stroke-width", 1.2);
const legSyms = [
  {t: d3.symbolCircle, s: 64, c: C.gray, x: 313, y: 593, tx: 363, ty: 600, label: legendLeft[0], w: 1.6},
  {t: d3.symbolSquare, s: 64, c: C.green, x: 313, y: 621, tx: 363, ty: 628, label: legendLeft[1], w: 2},
  {t: d3.symbolTriangle, s: 85, c: C.blue, x: 523, y: 574, tx: 559, ty: 580, label: legendRight[0], w: 2},
  {t: d3.symbolTriangle, s: 85, c: C.magenta, x: 523, y: 603, tx: 559, ty: 609, label: legendRight[1], w: 2},
  {t: d3.symbolTriangle, s: 85, c: C.brown, x: 523, y: 632, tx: 559, ty: 638, label: legendRight[2], w: 2}
];
legSyms.forEach(d => {
  lg.append("path").attr("d", d3.symbol().type(d.t).size(d.s)()).attr("transform", `translate(${d.x},${d.y})`)
    .attr("fill", "none").attr("stroke", d.c).attr("stroke-width", d.w);
  lg.append("text").attr("x", d.tx).attr("y", d.ty).attr("font-size", 18.5).text(d.label);
});
</script></body></html>
